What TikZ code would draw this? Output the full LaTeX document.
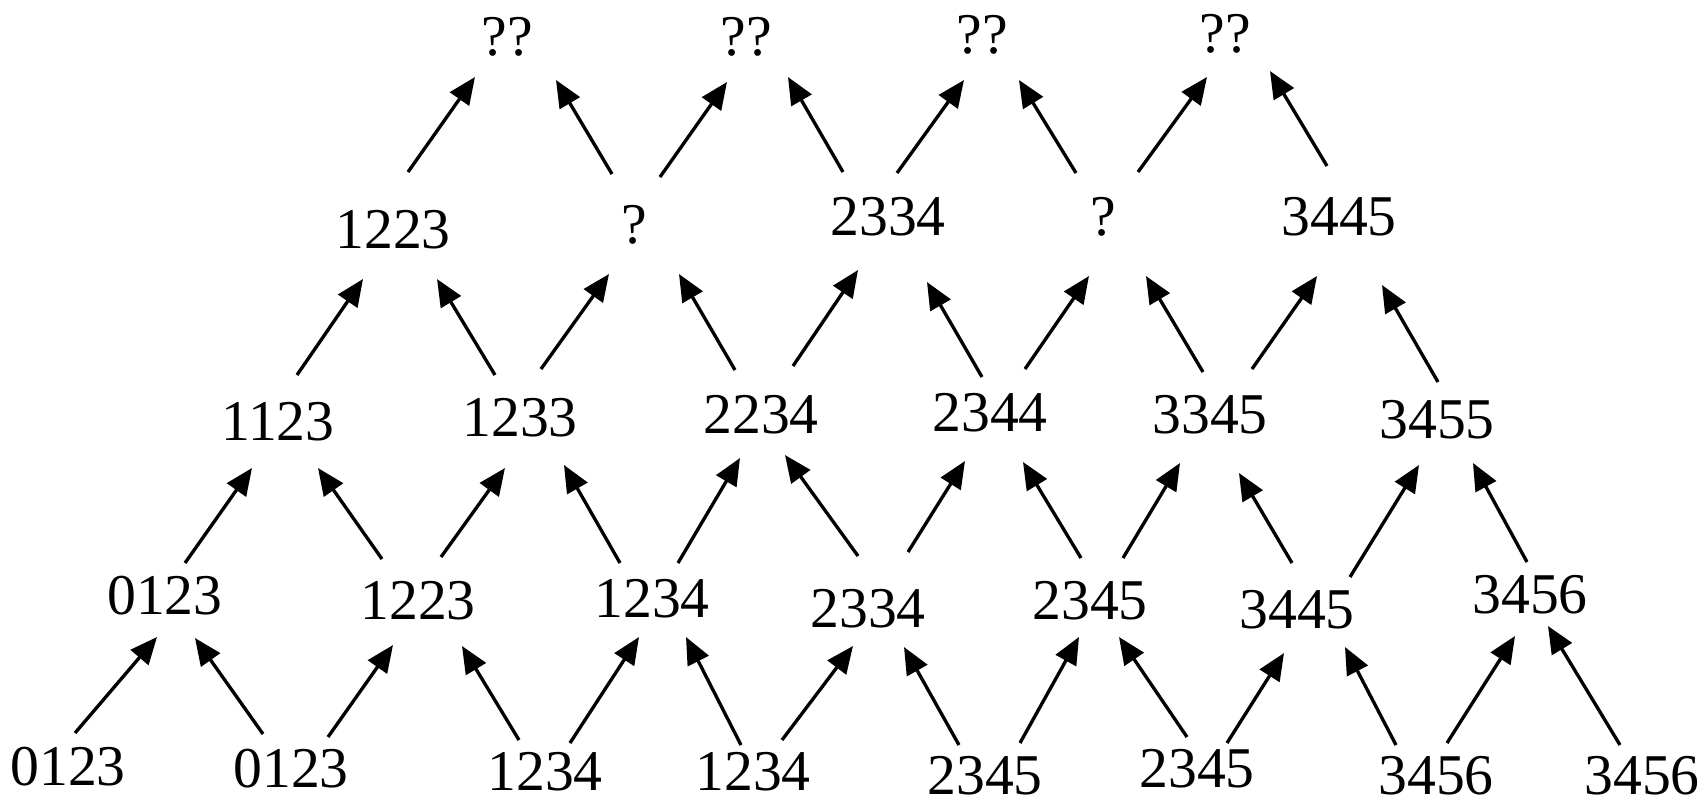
\documentclass[tikz,border=0pt]{standalone}
\usepackage{fontspec}
\setmainfont{Liberation Serif}
\usepackage{tikz}
\usetikzlibrary{calc,arrows.meta}

\begin{document}
\begin{tikzpicture}[x=0.01cm,y=-0.01cm,num/.style={inner sep=0pt,font=\fontsize{16.4}{20}\selectfont},arr/.style={-{Triangle[length=0.27cm,width=0.23cm]},line width=0.95pt}]
\useasboundingbox (0,0) rectangle (1705,802);
   \node[num](a0) at(68,767) {0123};
   \node[num](a1) at(291,769) {0123};
   \node[num](a2) at(545,772) {1234};
   \node[num](a3) at(753,772) {1234};
   \node[num](a4) at(985,776) {2345};
   \node[num](a5) at(1197,769) {2345};
   \node[num](a6) at(1436,776) {3456};
   \node[num](a7) at(1642,776) {3456};
   \node[num](b0) at(165,596) {0123};
   \node[num](b1) at(418,601) {1223};
   \node[num](b2) at(652,599) {1234};
   \node[num](b3) at(868,609) {2334};
   \node[num](b4) at(1090,601) {2345};
   \node[num](b5) at(1297,610) {3445};
   \node[num](b6) at(1530,595) {3456};
   \node[num](c0) at(278,422) {1123};
   \node[num](c1) at(520,418) {1233};
   \node[num](c2) at(761,415) {2234};
   \node[num](c3) at(990,413) {2344};
   \node[num](c4) at(1210,415) {3345};
   \node[num](c5) at(1437,420) {3455};
   \node[num](d0) at(393,230) {1223};
   \node[num](d1) at(634,225) {?};
   \node[num](d2) at(888,217) {2334};
   \node[num](d3) at(1103,217) {?};
   \node[num](d4) at(1339,217) {3445};
   \node[num](e0) at(507,37) {??};
   \node[num](e1) at(746,37) {??};
   \node[num](e2) at(982,35) {??};
   \node[num](e3) at(1225,34) {??};
\foreach \l/\sx/\sy/\u/\ex/\ey in %
{a0/7/-34/b0/-8/41, a1/-28/-35/b0/30/42, a1/37/-32/b1/-25/44, a2/-26/-32/b1/44/45,
 a2/25/-29/b2/-13/38, a3/-12/-27/b2/34/38, a3/29/-32/b3/-15/37, a4/-26/-31/b3/36/38,
 a4/35/-33/b4/-11/36, a5/-10/-32/b4/29/36, a5/30/-26/b5/-13/43, a6/-40/-31/b5/48/37,
 a6/11/-33/b6/-15/41, a7/-22/-31/b6/18/31} {
   \draw[arr] ($(\l)+(\sx,\sy)$) -- ($(\u)+(\ex,\ey)$);
}
\foreach \l/\sx/\sy/\u/\ex/\ey in %
{b0/20/-33/c0/-26/46, b1/-36/-42/c0/40/46, b1/23/-44/c1/-15/50, b2/-32/-36/c1/44/47,
 b2/26/-36/c2/-21/43, b3/-10/-53/c2/24/40, b3/40/-57/c3/-25/48, b4/-9/-43/c3/33/49,
 b4/33/-43/c4/-30/48, b5/-5/-47/c4/29/58, b5/53/-33/c5/-18/45, b6/-3/-33/c5/36/43} {
   \draw[arr] ($(\l)+(\sx,\sy)$) -- ($(\u)+(\ex,\ey)$);
}
\foreach \l/\sx/\sy/\u/\ex/\ey in %
{c0/19/-47/d0/-30/49, c1/-25/-43/d0/44/49, c1/21/-49/d1/-25/49, c2/-26/-45/d1/45/49,
 c2/32/-49/d2/-30/53, c3/-8/-36/d2/39/65, c3/35/-44/d3/-14/59, c4/-7/-43/d3/43/59,
 c4/42/-46/d4/-22/59, c5/1/-38/d4/43/68} {
   \draw[arr] ($(\l)+(\sx,\sy)$) -- ($(\u)+(\ex,\ey)$);
}
\foreach \l/\sx/\sy/\u/\ex/\ey in %
{d0/15/-58/e0/-32/40, d1/-22/-51/e0/49/43, d1/26/-48/e1/-19/45, d2/-45/-45/e1/42/40,
 d2/9/-44/e2/-18/45, d3/-27/-44/e2/37/45, d3/35/-45/e3/-18/43, d4/-12/-51/e3/45/37} {
   \draw[arr] ($(\l)+(\sx,\sy)$) -- ($(\u)+(\ex,\ey)$);
}
\end{tikzpicture}
\end{document}
